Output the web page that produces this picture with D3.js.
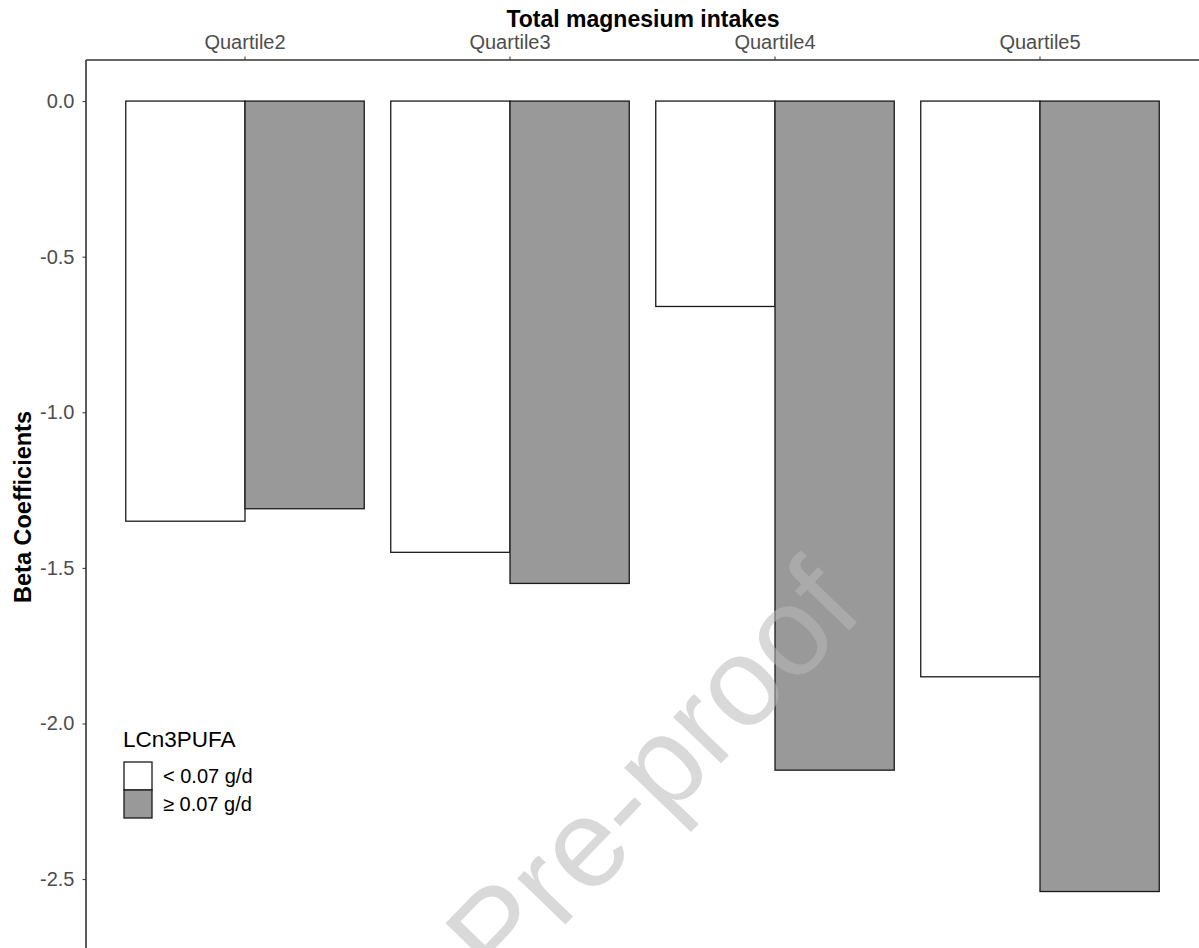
<!DOCTYPE html>
<html>
<head>
<meta charset="utf-8">
<script src="https://cdn.jsdelivr.net/npm/d3@7"></script>
<style>
  html, body { margin: 0; padding: 0; background: #fff; }
  svg { display: block; font-family: "Liberation Sans", Arial, sans-serif; }
</style>
</head>
<body>
<svg id="chart" width="1199" height="948"></svg>
<script>
// Quartiles of total magnesium intake (Quartile1 is the reference)
const quartiles = ["Quartile2", "Quartile3", "Quartile4", "Quartile5"];
// LCn3PUFA intake groups
const groups = ["< 0.07 g/d", "\u2265 0.07 g/d"];
// Beta coefficients per quartile, one array per group
const betaLow = [-1.35, -1.45, -0.66, -1.85];
const betaHigh = [-1.31, -1.55, -2.15, -2.54];
const yTicks = [0, -0.5, -1.0, -1.5, -2.0, -2.5];
const groupFill = ["#ffffff", "#999999"];

const rows = quartiles.map((q, i) => ({ q, values: [betaLow[i], betaHigh[i]] }));

const svg = d3.select("#chart");
const panel = { left: 86, top: 60, right: 1199, bottom: 948 };
const FONT = "Liberation Sans, Arial, sans-serif";

const x = d3.scaleBand()
  .domain(quartiles)
  .range([panel.left, panel.right])
  .paddingInner(0.1)
  .paddingOuter(0.15);

const xInner = d3.scaleBand()
  .domain(d3.range(groups.length))
  .range([0, x.bandwidth()]);

const y = d3.scaleLinear()
  .domain([0.132, -2.75])
  .range([panel.top, panel.top + 2.882 * 311.2]);

// Bars
const gBars = svg.append("g");
rows.forEach(r => {
  r.values.forEach((v, j) => {
    gBars.append("rect")
      .attr("x", x(r.q) + xInner(j))
      .attr("y", y(0))
      .attr("width", xInner.bandwidth())
      .attr("height", y(v) - y(0))
      .attr("fill", groupFill[j])
      .attr("stroke", "#1a1a1a")
      .attr("stroke-width", 1.3);
  });
});

// Top axis (categories)
const xAxis = d3.axisTop(x).tickSize(3.5).tickPadding(8);
const gx = svg.append("g")
  .attr("transform", `translate(0,${panel.top})`)
  .call(xAxis);
gx.select(".domain").attr("stroke", "#333").attr("stroke-width", 1.6)
  .attr("d", `M${panel.left},0H${panel.right}`);
gx.selectAll(".tick line").attr("stroke", "#333");
gx.selectAll(".tick text")
  .attr("fill", "#4d4d4d")
  .attr("font-size", 20)
  .attr("font-family", FONT);

// Left axis (beta coefficients)
const yAxis = d3.axisLeft(y).tickValues(yTicks).tickSize(3.5).tickPadding(8);
const gy = svg.append("g")
  .attr("transform", `translate(${panel.left},0)`)
  .call(yAxis);
gy.select(".domain").attr("stroke", "#333").attr("stroke-width", 1.6)
  .attr("d", `M0,${panel.top}V${panel.bottom}`);
gy.selectAll(".tick line").attr("stroke", "#333");
gy.selectAll(".tick text")
  .attr("fill", "#4d4d4d")
  .attr("font-size", 20)
  .attr("font-family", FONT)
  .text(d => d3.format(".1f")(d).replace("\u2212", "-"));

// Axis titles
svg.append("text")
  .attr("x", 643)
  .attr("y", 27)
  .attr("text-anchor", "middle")
  .attr("font-size", 23)
  .attr("font-weight", "bold")
  .attr("fill", "#000")
  .text("Total magnesium intakes");

svg.append("text")
  .attr("transform", `translate(31,507) rotate(-90)`)
  .attr("text-anchor", "middle")
  .attr("font-size", 23.5)
  .attr("font-weight", "bold")
  .attr("fill", "#000")
  .text("Beta Coefficients");

// Legend
const legend = svg.append("g").attr("transform", "translate(123,0)");
legend.append("text")
  .attr("x", 0).attr("y", 747)
  .attr("font-size", 22.5)
  .attr("fill", "#000")
  .text("LCn3PUFA");
groups.forEach((g, j) => {
  legend.append("rect")
    .attr("x", 1).attr("y", 762 + j * 28)
    .attr("width", 28).attr("height", 28)
    .attr("fill", groupFill[j])
    .attr("stroke", "#1a1a1a")
    .attr("stroke-width", 1.3);
  legend.append("text")
    .attr("x", 40).attr("y", 762 + j * 28 + 21)
    .attr("font-size", 20)
    .attr("fill", "#000")
    .text(g);
});

// Watermark
svg.append("text")
  .attr("transform", "translate(652,772) rotate(-46)")
  .attr("text-anchor", "middle")
  .attr("dominant-baseline", "central")
  .attr("font-size", 126)
  .attr("fill", "#b8b8b8")
  .attr("fill-opacity", 0.54)
  .text("Pre-proof");
</script>
</body>
</html>
